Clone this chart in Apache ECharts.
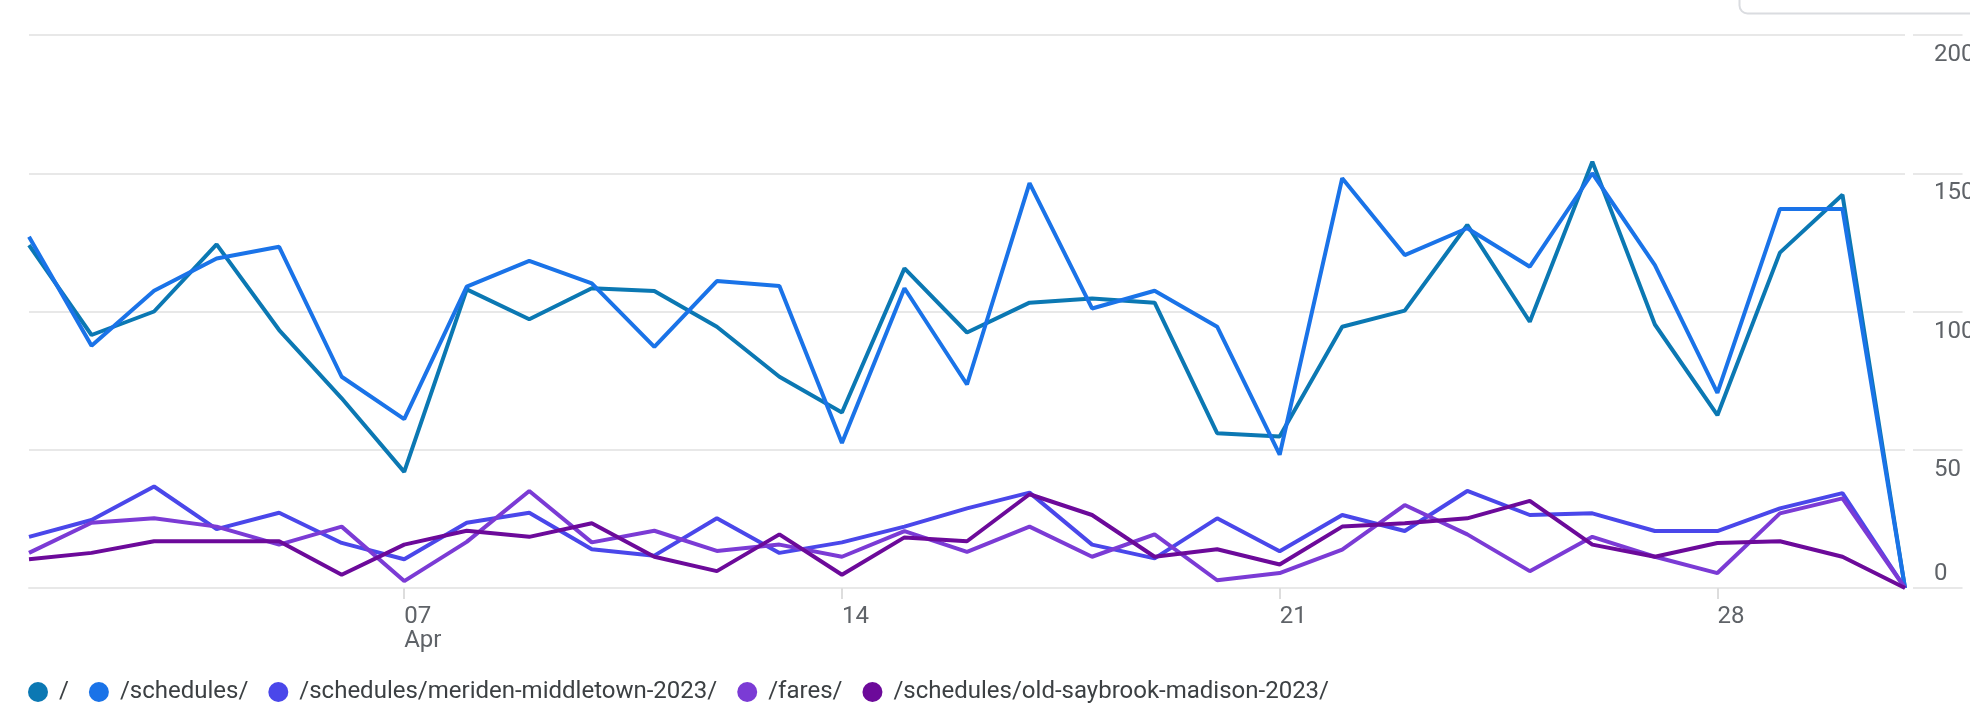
<!DOCTYPE html>
<html>
<head>
<meta charset="utf-8">
<script src="https://cdn.jsdelivr.net/npm/echarts@6/dist/echarts.min.js"></script>
<style>
html,body{margin:0;padding:0;background:#fff;}
#chart{width:1970px;height:713px;}
</style>
</head>
<body>
<div id="chart"></div>
<script>
const dates = ['2023-04-01','2023-04-02','2023-04-03','2023-04-04','2023-04-05','2023-04-06','2023-04-07','2023-04-08','2023-04-09','2023-04-10','2023-04-11','2023-04-12','2023-04-13','2023-04-14','2023-04-15','2023-04-16','2023-04-17','2023-04-18','2023-04-19','2023-04-20','2023-04-21','2023-04-22','2023-04-23','2023-04-24','2023-04-25','2023-04-26','2023-04-27','2023-04-28','2023-04-29','2023-04-30','2023-05-01'];
const tickDates = ['2023-04-07','2023-04-14','2023-04-21','2023-04-28'];
const tickLabels = ['07\nApr','14','21','28'];
const yTicks = [0, 50, 100, 150, 200];
const seriesNames = ['/', '/schedules/', '/schedules/meriden-middletown-2023/', '/fares/', '/schedules/old-saybrook-madison-2023/'];
const seriesColors = ['#0b78b3', '#1a73e8', '#4a47ea', '#7b3bd5', '#6c0a9a'];

const home = [124, 91.5, 100, 124.3, 93.3, 68.6, 42, 108, 97.2, 108.4, 107.4, 94.5, 76.4, 63.5, 115.6, 92.4, 103.2, 104.7, 103.2, 56, 54.8, 94.5, 100.3, 131.3, 96.3, 154.2, 95.3, 62.5, 121.3, 142.2, 0];
const schedules = [127, 87.6, 107.5, 119.2, 123.4, 76.4, 61.1, 109, 118.3, 110.2, 87.2, 111, 109.2, 52.4, 108.4, 73.6, 146.4, 101.1, 107.5, 94.5, 48.2, 148.2, 120.4, 130.1, 116.2, 150, 116.8, 70.6, 137.1, 137.1, 0];
const meriden = [18.5, 24.6, 36.7, 21.3, 27.2, 16.3, 10.4, 23.6, 27.2, 14.0, 11.7, 25.2, 12.7, 16.5, 22.2, 28.8, 34.5, 15.7, 10.7, 25.2, 13.3, 26.4, 20.6, 35.1, 26.4, 27.0, 20.6, 20.6, 28.8, 34.3, 0];
const fares = [12.7, 23.6, 25.2, 22.2, 15.7, 22.2, 2.5, 16.7, 35.1, 16.5, 20.7, 13.4, 15.7, 11.3, 20.6, 13.1, 22.2, 11.3, 19.4, 2.8, 5.4, 13.9, 30.0, 19.4, 6.1, 18.5, 11.3, 5.4, 27.0, 32.4, 0];
const oldSaybrook = [10.4, 12.7, 16.9, 16.9, 16.9, 4.8, 15.7, 20.7, 18.5, 23.4, 11.3, 6.1, 19.4, 4.8, 18.3, 16.9, 33.9, 26.4, 11.3, 14.0, 8.5, 22.2, 23.4, 25.2, 31.5, 15.7, 11.3, 16.3, 16.9, 11.3, 0];

const allValues = [home, schedules, meriden, fares, oldSaybrook];

const chart = echarts.init(document.getElementById('chart'), null, {renderer: 'canvas'});
const labelColor = '#5f6368';
const gridColor = '#e8e8e8';
const font = 'Roboto, "Noto Sans", sans-serif';

const isTick = (idx) => tickDates.indexOf(dates[idx]) >= 0;

chart.setOption({
  animation: false,
  backgroundColor: '#ffffff',
  textStyle: {fontFamily: font},
  grid: [
    {left: 29, right: 65, top: 35, bottom: 125, containLabel: false},
    {left: 1913, right: 0, top: 35, bottom: 125, containLabel: false}
  ],
  xAxis: [
    {
      type: 'category', gridIndex: 0, data: dates, boundaryGap: false,
      axisLine: {show: true, lineStyle: {color: gridColor, width: 2}},
      axisTick: {show: true, length: 11, interval: (i) => isTick(i), lineStyle: {color: '#dddddd', width: 2}},
      axisLabel: {
        show: true, interval: (i) => isTick(i), align: 'left', margin: 17,
        fontSize: 24, lineHeight: 24, color: labelColor, fontFamily: font,
        formatter: (v) => { const k = tickDates.indexOf(v); return k >= 0 ? tickLabels[k] : ''; }
      },
      splitLine: {show: false}
    },
    {
      type: 'value', gridIndex: 1, min: 0, max: 1, show: false
    }
  ],
  yAxis: [
    {
      type: 'value', gridIndex: 0, min: 0, max: 200, interval: 50,
      axisLine: {show: false}, axisTick: {show: false}, axisLabel: {show: false},
      splitLine: {show: true, lineStyle: {color: gridColor, width: 2}}
    },
    {
      type: 'value', gridIndex: 1, position: 'left', min: 0, max: 200, interval: 50,
      axisLine: {show: false}, axisTick: {show: false},
      splitLine: {show: true, lineStyle: {color: gridColor, width: 2}},
      axisLabel: {
        inside: true, margin: 21, align: 'left', verticalAlign: 'top',
        padding: [8, 0, 0, 0], fontSize: 24, lineHeight: 24, color: labelColor, fontFamily: font,
        formatter: (v) => (v === yTicks[0] ? '' : String(v))
      }
    },
    {
      type: 'value', gridIndex: 1, position: 'left', min: 0, max: 200, interval: 50,
      axisLine: {show: false}, axisTick: {show: false}, splitLine: {show: false},
      axisLabel: {
        inside: true, margin: 21, align: 'left', verticalAlign: 'bottom',
        padding: [0, 0, 2, 0], fontSize: 24, lineHeight: 24, color: labelColor, fontFamily: font,
        formatter: (v) => (v === yTicks[0] ? String(v) : '')
      }
    }
  ],
  legend: {
    left: 23, top: 675, icon: 'circle', itemWidth: 32, itemHeight: 20, itemGap: 20,
    data: seriesNames,
    textStyle: {fontSize: 24, color: '#3c4043', fontFamily: font},
    selectedMode: false
  },
  graphic: [
    {
      type: 'rect', left: 1737, top: -30, silent: true,
      shape: {width: 300, height: 41, r: 8},
      style: {fill: 'none', stroke: '#dadce0', lineWidth: 2}
    }
  ],
  series: seriesNames.map((name, k) => ({
    name: name, type: 'line', xAxisIndex: 0, yAxisIndex: 0,
    data: allValues[k], symbol: 'none', showSymbol: false,
    lineStyle: {width: 4, color: seriesColors[k]},
    itemStyle: {color: seriesColors[k]},
    emphasis: {disabled: true}
  }))
});
</script>
</body>
</html>
